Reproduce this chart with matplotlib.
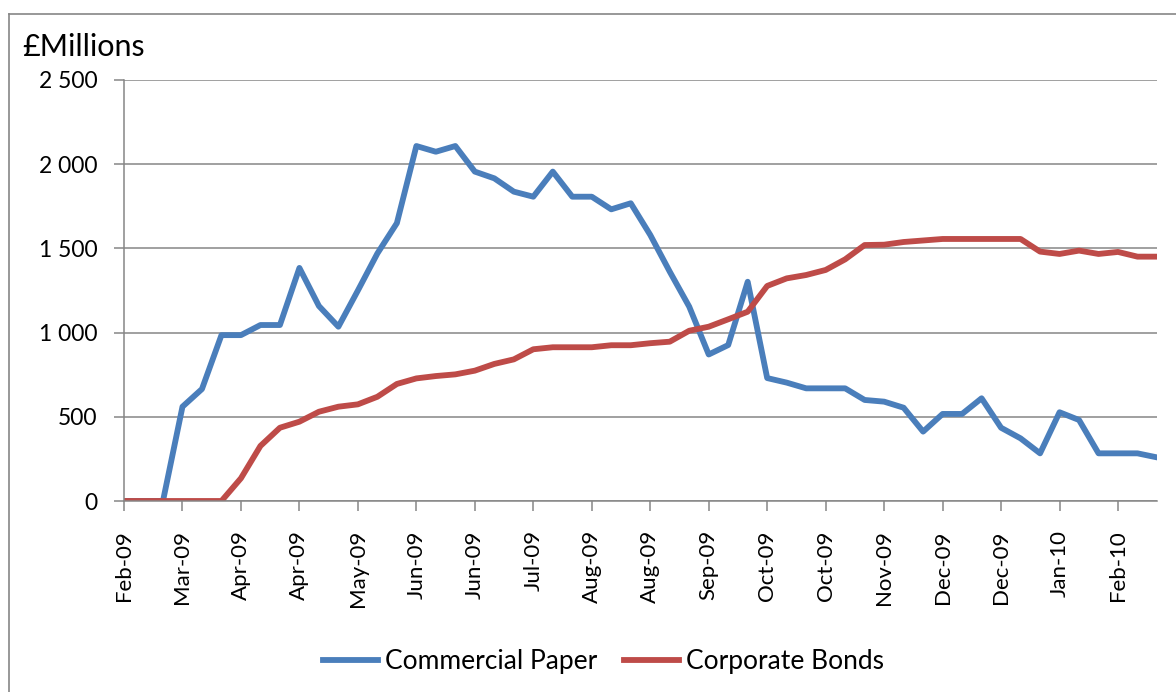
import matplotlib
matplotlib.use("Agg")
import matplotlib.pyplot as plt
from matplotlib.lines import Line2D
from matplotlib.ticker import FuncFormatter, MultipleLocator, FixedLocator

plt.rcParams['font.family'] = ['Lato', 'DejaVu Sans']

# Weekly observations, Feb-09 to Feb-10 (£ millions)
tick_labels = ["Feb-09", "Mar-09", "Apr-09", "Apr-09", "May-09", "Jun-09",
               "Jun-09", "Jul-09", "Aug-09", "Aug-09", "Sep-09", "Oct-09",
               "Oct-09", "Nov-09", "Dec-09", "Dec-09", "Jan-10", "Feb-10"]

commercial_paper = [0, 0, 0, 560, 665, 985, 985, 1045, 1045, 1384,
                    1158, 1035, 1250, 1470, 1650, 2108, 2074, 2108, 1956, 1916,
                    1837, 1807, 1956, 1807, 1807, 1732, 1768, 1580, 1362, 1154,
                    870, 926, 1302, 730, 703, 669, 669, 669, 600, 590,
                    554, 412, 517, 517, 610, 435, 372, 283, 527, 481,
                    283, 283, 283, 259]

corporate_bonds = [0, 0, 0, 0, 0, 0, 135, 327, 435, 471,
                   530, 560, 574, 619, 695, 728, 742, 752, 774, 814,
                   841, 901, 913, 913, 913, 925, 925, 937, 946, 1011,
                   1035, 1079, 1124, 1277, 1322, 1342, 1372, 1435, 1520, 1522,
                   1538, 1547, 1556, 1556, 1556, 1556, 1556, 1481, 1467, 1487,
                   1467, 1479, 1451, 1451]

x = list(range(len(commercial_paper)))

BLUE = "#4A7EBB"
RED = "#BE4B48"
GRID = "#868686"

W, H = 1176, 692
fig = plt.figure(figsize=(W / 100, H / 100), dpi=100)

# chart-area border
fig.add_artist(Line2D([9 / W, 9 / W], [0, 1 - 14 / H], color=GRID, lw=1.2,
                      transform=fig.transFigure))
fig.add_artist(Line2D([9 / W, 1], [1 - 14 / H, 1 - 14 / H], color=GRID, lw=1.2,
                      transform=fig.transFigure))

left, right, top, bottom = 124, 1157, 80, 501
ax = fig.add_axes([left / W, 1 - bottom / H, (right - left) / W, (bottom - top) / H])

ax.plot(x, commercial_paper, color=BLUE, lw=4.2, solid_joinstyle='round',
        label="Commercial Paper")
ax.plot(x, corporate_bonds, color=RED, lw=4.2, solid_joinstyle='round',
        label="Corporate Bonds")

ax.set_xlim(0, len(x) - 1)
ax.set_ylim(0, 2500)
ax.yaxis.set_major_locator(MultipleLocator(500))
ax.yaxis.set_major_formatter(FuncFormatter(lambda v, p: f"{int(v):,}".replace(",", " ")))
ax.xaxis.set_major_locator(FixedLocator(list(range(0, len(x), 3))))
ax.set_xticklabels(tick_labels, rotation=90)

ax.grid(axis='y', color=GRID, lw=1.1)
ax.set_axisbelow(True)
for s in ['top', 'right']:
    ax.spines[s].set_visible(False)
for s in ['left', 'bottom']:
    ax.spines[s].set_color(GRID)
    ax.spines[s].set_linewidth(1.1)
ax.tick_params(axis='both', color=GRID, width=1.1, length=7, labelcolor='black')
ax.tick_params(axis='y', pad=12, labelsize=16.5)
ax.tick_params(axis='x', pad=14, labelsize=16)

fig.text(22 / W, 1 - 47 / H, "£Millions", fontsize=22, va='center', ha='left')

handles, labels = ax.get_legend_handles_labels()
fig.legend(handles, labels, loc='center', bbox_to_anchor=(0.513, 1 - 662 / H),
           ncol=2, frameon=False, fontsize=19, handlelength=2.1,
           columnspacing=1.0, handletextpad=0.25)

fig.savefig("out.png", dpi=100)
